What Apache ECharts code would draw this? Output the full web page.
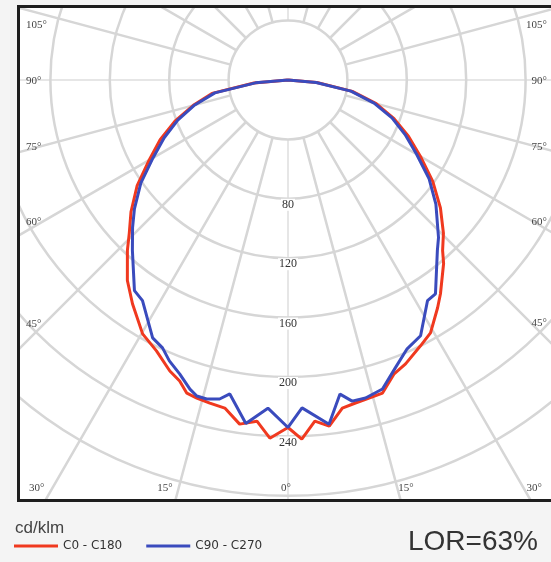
<!DOCTYPE html>
<html><head><meta charset="utf-8">
<script src="https://cdn.jsdelivr.net/npm/echarts@6/dist/echarts.min.js"></script>
<style>html,body{margin:0;padding:0;background:#f4f4f4}#c{width:551px;height:562px}</style>
</head><body><div id="c"></div>
<script>
// gamma angles in degrees: negative = left half (C180 / C270), positive = right half (C0 / C90)
const redAngles = [-90,-85,-80,-75,-70,-65,-60,-55,-50,-46,-43.3,-38.7,-34.8,-29.8,-25.9,-22.1,-19.8,-17.9,-16,-13.6,-10.9,-8,-5.2,-2.9,0,2.2,4.5,6.8,9.4,11.8,14.3,16.8,19.8,22.5,26.5,29.4,33.3,35.5,40.3,42.2,45.4,50,55,60,65,70,75,80,85,90];
const redValues = [0,23,52,66,81,95,108,124,138,148.6,157.7,173,183.5,197,202.8,211.5,215.4,221.6,222.8,223.9,225,234,230.7,241.5,234,242,230.4,234.7,224,222.2,221,220.2,210.5,206.9,200,195.5,183.5,176.8,162,155,147,134,119,103,89.5,76,61.5,44,19.5,0];
const blueAngles = [-90,-85,-80,-75,-70,-65,-60,-55,-50,-46.5,-42.4,-36.1,-33.4,-27.7,-25.1,-22.9,-20.2,-17.6,-16.1,-14.3,-12.1,-10.5,-7,-3.5,0,2.45,6.8,9.4,11.3,13.7,17,20.4,23.9,27.4,32.3,34.6,41.2,43.7,50,55,60,65,70,75,80,85,90];
const blueValues = [0,22,50,65,79,92,105,121,135,144.3,155.4,175.5,178,196.1,199.2,205.3,211,218.4,221.5,221.7,219.7,215,233,221.4,234,221,233.4,214.4,220.5,220.4,217.6,207,198,194,175.8,174.9,152.7,146.7,130,116,100,87,74.5,60,43,19,0];
const seriesNames = ['C0 - C180', 'C90 - C270'];
const ringLabelValues = [80, 120, 160, 200, 240];
const angleLabels = ['105°','90°','75°','60°','45°','30°','15°','0°','15°','30°'];
const unitText = 'cd/klm';
const lorText = 'LOR=63%';

// layout (pixels)
const CX = 288, CY = 80, PX_PER_UNIT = 1.485, RMAX = 280;
const labelPos = [
  {i:0,x:26,y:25,a:'left'},{i:1,x:26,y:81,a:'left'},{i:2,x:26,y:147,a:'left'},{i:3,x:26,y:222,a:'left'},{i:4,x:26,y:324,a:'left'},{i:5,x:29,y:488,a:'left'},
  {i:0,x:547,y:25,a:'right'},{i:1,x:547,y:81,a:'right'},{i:2,x:547,y:147,a:'right'},{i:3,x:547,y:222,a:'right'},{i:4,x:547,y:323,a:'right'},{i:9,x:542,y:488,a:'right'},
  {i:6,x:165,y:488,a:'center'},{i:7,x:286,y:488,a:'center'},{i:8,x:406,y:488,a:'center'}
];

function toPolar(angles, values) {
  return angles.map((a, k) => [values[k], a < 0 ? 360 + a : a]);
}

const GRID = '#d6d6d6';
const BG = '#f4f4f4';
const graphics = [
  {type:'rect', z:100, silent:true, shape:{x:0,y:0,width:551,height:5}, style:{fill:BG}},
  {type:'rect', z:100, silent:true, shape:{x:0,y:0,width:17,height:562}, style:{fill:BG}},
  {type:'rect', z:100, silent:true, shape:{x:0,y:502,width:551,height:60}, style:{fill:BG}},
  {type:'rect', z:101, silent:true, shape:{x:17,y:5,width:534,height:3}, style:{fill:'#1e1e1e'}},
  {type:'rect', z:101, silent:true, shape:{x:17,y:5,width:3,height:497}, style:{fill:'#1e1e1e'}},
  {type:'rect', z:101, silent:true, shape:{x:17,y:499,width:534,height:3}, style:{fill:'#1e1e1e'}},
  {type:'text', z:102, silent:true, x:15, y:528, style:{text:unitText, font:'17px "Liberation Sans"', fill:'#444', align:'left', verticalAlign:'middle'}},
  {type:'text', z:102, silent:true, x:408, y:542, style:{text:lorText, font:'28px "Liberation Sans"', fill:'#333', align:'left', verticalAlign:'middle'}}
];
labelPos.forEach(p => graphics.push({
  type:'text', z:102, silent:true, x:p.x, y:p.y,
  style:{text:angleLabels[p.i], font:'11px "Liberation Serif"', fill:'#444', align:p.a, verticalAlign:'middle'}
}));

const chart = echarts.init(document.getElementById('c'), null, {renderer:'canvas'});
chart.setOption({
  backgroundColor:'#ffffff',
  animation:false,
  polar:[
    {center:[CX, CY], radius: RMAX * PX_PER_UNIT},
    {center:[CX, CY], radius:[40 * PX_PER_UNIT, 760]},
    {center:[CX, CY], radius:[40 * PX_PER_UNIT, 760]}
  ],
  angleAxis:[
    {polarIndex:0, type:'value', min:0, max:360, startAngle:270, clockwise:false,
     axisLine:{show:false}, axisTick:{show:false}, axisLabel:{show:false}, splitLine:{show:false}},
    {polarIndex:1, type:'value', min:0, max:360, interval:15, startAngle:270, clockwise:false,
     axisLine:{show:false}, axisTick:{show:false}, axisLabel:{show:false},
     splitLine:{show:true, lineStyle:{color:['rgba(0,0,0,0)',GRID,GRID,GRID,GRID,GRID], width:2.5}}},
    {polarIndex:2, type:'value', min:0, max:360, interval:90, startAngle:270, clockwise:false,
     axisLine:{show:false}, axisTick:{show:false}, axisLabel:{show:false},
     splitLine:{show:true, lineStyle:{color:'#cdcdcd', width:1}}}
  ],
  radiusAxis:[
    {polarIndex:0, type:'value', min:0, max:RMAX, interval:40,
     axisLine:{show:false}, axisTick:{show:false},
     axisLabel:{show:true, margin:0, align:'center', verticalAlign:'top',
       formatter: v => ringLabelValues.indexOf(v) >= 0 ? String(v) : '',
       fontFamily:'Liberation Serif', fontSize:12, color:'#333', backgroundColor:'#ffffff', padding:[0,1]},
     splitLine:{show:true, lineStyle:{color:GRID, width:2.5}}, z:1},
    {polarIndex:1, type:'value', min:0, max:100, show:false},
    {polarIndex:2, type:'value', min:0, max:100, show:false}
  ],
  legend:{
    z:150, left:14, top:540, padding:0, itemWidth:44, itemHeight:3, itemGap:24, icon:'rect',
    data:seriesNames, textStyle:{fontFamily:'DejaVu Sans', fontSize:12, color:'#333'}
  },
  series:[
    {name:seriesNames[0], type:'line', coordinateSystem:'polar', polarIndex:0,
     data:toPolar(redAngles, redValues), showSymbol:false, symbol:'none', smooth:false,
     lineStyle:{color:'#f0391f', width:3}, itemStyle:{color:'#f0391f'}, z:3},
    {name:seriesNames[1], type:'line', coordinateSystem:'polar', polarIndex:0,
     data:toPolar(blueAngles, blueValues), showSymbol:false, symbol:'none', smooth:false,
     lineStyle:{color:'#3a4bbd', width:3}, itemStyle:{color:'#3a4bbd'}, z:4}
  ],
  graphic:graphics
});
</script></body></html>
